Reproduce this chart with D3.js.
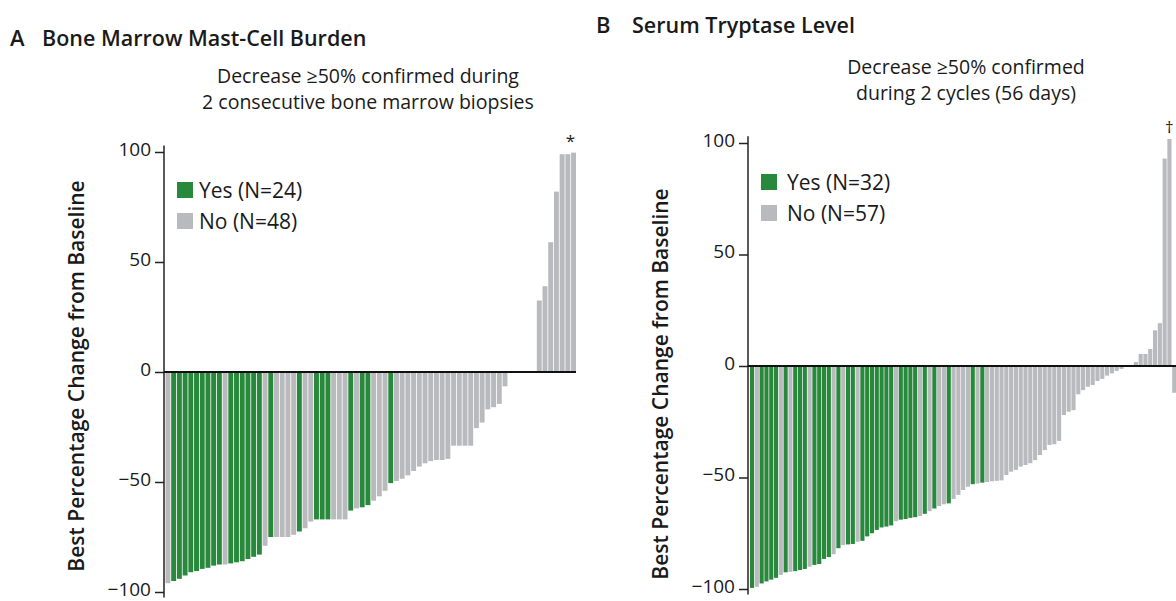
<!DOCTYPE html>
<html>
<head>
<meta charset="utf-8">
<script src="https://cdn.jsdelivr.net/npm/d3@7"></script>
<style>
  body { margin: 0; background: #fff; }
  text { font-family: "Open Sans", "Noto Sans", sans-serif; fill: #1a1a1a; }
</style>
</head>
<body>
<div id="chart"></div>
<script>
// Panel A: bone marrow mast-cell burden, one value per patient (sorted waterfall)
const aValues = [
  -96, -95, -94, -92.5, -91, -90.5, -89.5, -89, -88, -87.5,
  -87.5, -87, -86.5, -86, -85, -84, -83, -79, -75, -75,
  -75, -75, -74, -72.5, -71, -68, -67, -67, -67, -67,
  -67, -67, -63, -62, -61.5, -60.5, -58.5, -56.5, -54, -50.5,
  -49.5, -48.5, -47, -45, -43, -41.5, -40.5, -40, -40, -39.5,
  -33.5, -33.5, -33.5, -33.5, -25.5, -23, -17, -16, -14.5, -6.5,
  0, 0, 0, 0, 0, 32.5, 39, 59, 82, 99, 99, 99.7
]
const aGroups = [
  'N','Y','Y','Y','Y','Y','Y','Y','Y','Y',
  'N','Y','Y','Y','Y','Y','Y','N','Y','N',
  'N','N','N','Y','N','N','Y','Y','Y','N',
  'N','N','Y','N','Y','Y','N','N','N','Y',
  'N','N','N','N','N','N','N','N','N','N',
  'N','N','N','N','N','N','N','N','N','N',
  'N','N','N','N','N','N','N','N','N','N','N','N'
]

// Panel B: serum tryptase level
const bValues = [
  -99.5, -99, -97.5, -96.6, -95.8, -95, -93.7, -92.5, -92.3, -92,
  -91.5, -91, -90, -89.2, -88.8, -86.5, -85.7, -84.4, -81.7, -80.3,
  -80, -79.8, -78.8, -78.4, -76.4, -75, -73.5, -72.4, -72, -71.5,
  -69.6, -68.9, -68.6, -68.1, -67.8, -67.3, -66.3, -65.1, -63.9, -62.8,
  -62, -61.6, -59.6, -57.8, -55.6, -54.1, -53, -52.7, -52.3, -52,
  -51.7, -51.5, -51.3, -48.9, -47.4, -46.6, -45.1, -44.4, -43.6, -42.2,
  -39.9, -37.7, -35.4, -35.1, -33.6, -22, -20.5, -19.8, -12.7, -10.8,
  -9.3, -8.5, -6.7, -5.8, -4.3, -3.3, -2.2, -1.3, 0, 0,
  1.8, 5.4, 5.4, 7.6, 16, 19.2, 93, 101.8, -12
]
const bGroups = [
  'Y','N','Y','Y','Y','Y','N','Y','N','Y',
  'Y','Y','N','Y','Y','Y','Y','N','Y','N',
  'Y','Y','N','Y','Y','Y','Y','Y','Y','Y',
  'N','Y','Y','Y','Y','N','Y','N','Y','N',
  'N','Y','N','N','N','N','Y','N','Y','N',
  'N','N','N','N','N','N','N','N','N','N',
  'N','N','N','N','N','N','N','N','N','N',
  'N','N','N','N','N','N','N','N','N','N',
  'N','N','N','N','N','N','N','N','N'
]

const yTicks = [100, 50, 0, -50, -100]
const colors = { Y: '#28883c', N: '#b9babd' }

const svg = d3.select('#chart').append('svg')
  .attr('width', 1176)
  .attr('height', 601)

function panel(p) {
  const g = svg.append('g')
  const y = d3.scaleLinear().domain([-100, 100]).range([p.yBottom, p.yTop])
  const x = d3.scaleBand()
    .domain(d3.range(p.values.length))
    .range(p.xRange)
    .paddingInner(0.14)
    .paddingOuter(0)

  // letter + title
  g.append('text').attr('x', p.letterX).attr('y', p.titleY)
    .attr('font-size', 22).attr('font-weight', 600).text(p.letter)
  g.append('text').attr('x', p.titleX).attr('y', p.titleY)
    .attr('font-size', 21.5).attr('font-weight', 600).text(p.title)

  // subtitle
  g.selectAll('.sub').data(p.sub).enter().append('text')
    .attr('x', p.subX).attr('y', (d, i) => p.subY + i * 26)
    .attr('text-anchor', 'middle')
    .attr('font-size', 19.5).attr('fill', '#333')
    .text(d => d)

  // bars
  g.append('g').selectAll('rect')
    .data(p.values)
    .enter().append('rect')
    .attr('x', (d, i) => x(i))
    .attr('width', x.bandwidth())
    .attr('y', d => y(Math.max(0, d)))
    .attr('height', d => Math.abs(y(d) - y(0)))
    .attr('fill', (d, i) => colors[p.groups[i]])

  // y axis
  const axis = g.append('g')
    .attr('transform', `translate(${p.axisX},0)`)
    .call(d3.axisLeft(y).tickValues(yTicks).tickSize(9).tickPadding(4))
  axis.select('.domain').remove()
  axis.append('line')
    .attr('y1', y(103)).attr('y2', y(-102.5))
    .attr('stroke', '#222').attr('stroke-width', 1.5)
  axis.selectAll('.tick line').attr('stroke', '#222').attr('stroke-width', 1.5)
  axis.selectAll('.tick text')
    .attr('font-size', 19)
    .attr('dy', '0.18em')
    .attr('font-family', '"Open Sans", "Noto Sans", sans-serif')
    .attr('fill', '#222')

  // zero line
  g.append('line')
    .attr('x1', p.axisX).attr('x2', p.xRange[1])
    .attr('y1', y(0)).attr('y2', y(0))
    .attr('stroke', '#111').attr('stroke-width', 2)

  // axis label
  g.append('text')
    .attr('transform', `translate(${p.labelX},${p.labelY}) rotate(-90)`)
    .attr('text-anchor', 'middle')
    .attr('font-size', 21).attr('font-weight', 600)
    .text('Best Percentage Change from Baseline')

  // legend
  const counts = ['Y', 'N'].map(k => p.groups.filter(d => d === k).length)
  const leg = g.append('g').selectAll('g')
    .data([['Y', 'Yes'], ['N', 'No']])
    .enter().append('g')
    .attr('transform', (d, i) => `translate(${p.axisX + 13},${p.legendY + i * 31})`)
  leg.append('rect').attr('width', 16).attr('height', 16).attr('fill', d => colors[d[0]])
  leg.append('text').attr('x', p.legendTx).attr('y', 15.5).attr('font-size', 21).attr('fill', '#333')
    .text((d, i) => `${d[1]} (N=${counts[i]})`)

  // marker above the tallest bar
  const top = d3.maxIndex(p.values)
  g.append('text')
    .attr('x', x(top) + x.bandwidth() / 2 + p.markDx)
    .attr('y', y(p.values[top]) - 6)
    .attr('text-anchor', 'middle')
    .attr('font-size', 17).attr('fill', '#555')
    .text(p.mark)
}

panel({
  values: aValues, groups: aGroups,
  letter: 'A', letterX: 10, titleX: 42, titleY: 46,
  title: 'Bone Marrow Mast-Cell Burden',
  sub: ['Decrease \u226550% confirmed during', '2 consecutive bone marrow biopsies'],
  subX: 368, subY: 83,
  xRange: [165.5, 576], axisX: 164, yTop: 152, yBottom: 592,
  labelX: 84, labelY: 376, legendY: 182, legendTx: 22, mark: '*', markDx: -3
})

panel({
  values: bValues, groups: bGroups,
  letter: 'B', letterX: 596, titleX: 632, titleY: 33,
  title: 'Serum Tryptase Level',
  sub: ['Decrease \u226550% confirmed', 'during 2 cycles (56 days)'],
  subX: 966, subY: 74,
  xRange: [750, 1176.3], axisX: 748, yTop: 143, yBottom: 589,
  labelX: 668, labelY: 384, legendY: 174, legendTx: 26, mark: '\u2020', markDx: 0
})
</script>
</body>
</html>
